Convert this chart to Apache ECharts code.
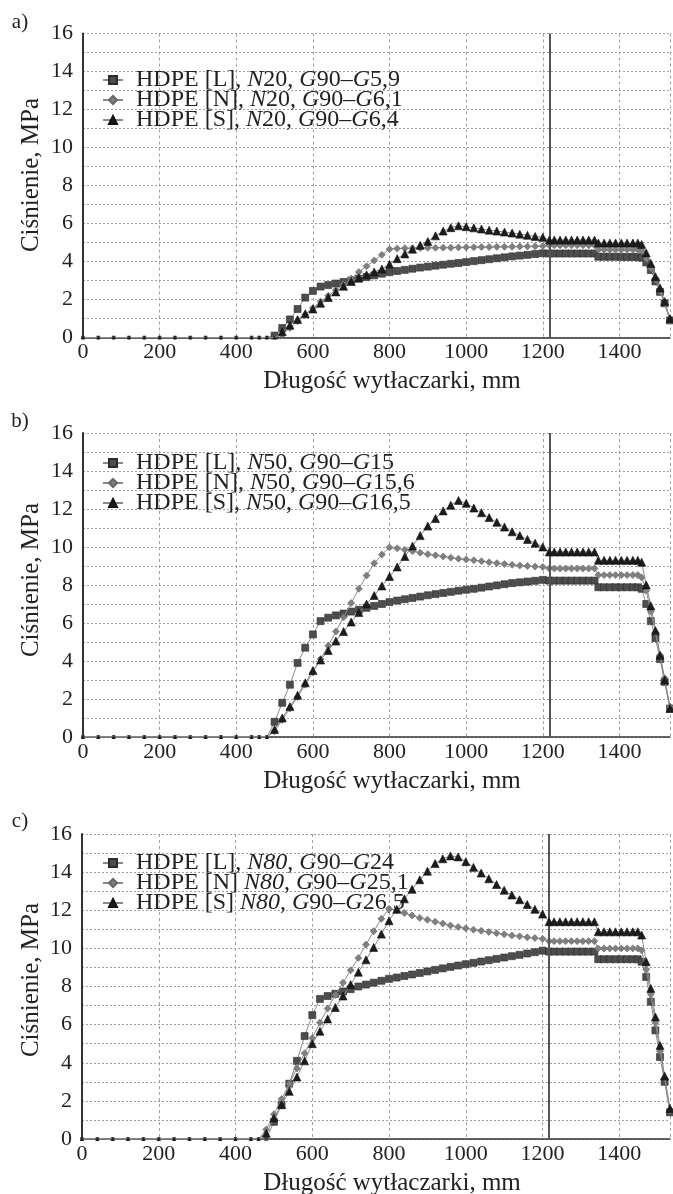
<!DOCTYPE html>
<html><head><meta charset="utf-8">
<script src="https://cdn.jsdelivr.net/npm/echarts@6/dist/echarts.min.js"></script>
<style>html,body{margin:0;padding:0;background:#fff}#c{width:673px;height:1194px}</style>
</head><body><div id="c"></div>
<script>
// ---- data ----
const X = [0,40,80,120,160,200,240,280,320,360,400,440,
460,480,500,520,540,560,580,600,620,640,660,680,700,720,740,760,780,800,820,840,860,880,900,920,940,960,980,1000,1020,1040,1060,1080,1100,1120,1140,1160,1180,1200,
1217,1230,1245,1260,1275,1290,1305,1320,1335,
1345,1360,1375,1390,1405,1420,1435,1448,1458,
1470,1482,1494,1506,1518,1532];

const La = [0,0,0,0,0,0,0,0,0,0,0,0,
0,0,0.1,0.5,0.95,1.5,2.1,2.45,2.68,2.76,
2.84,2.92,3.0,3.09,3.18,3.27,3.36,3.44,3.5,3.56,
3.62,3.68,3.73,3.78,3.83,3.88,3.92,3.97,4.02,4.07,
4.12,4.17,4.22,4.27,4.31,4.35,4.39,4.43,
4.42,4.42,4.42,4.42,4.42,4.42,4.42,4.42,4.42,
4.25,4.25,4.25,4.25,4.24,4.24,4.24,4.23,4.2,
3.95,3.55,2.95,2.4,1.8,0.9];
const Na = [0,0,0,0,0,0,0,0,0,0,0,0,
0,0,0,0.15,0.5,0.85,1.2,1.55,1.9,2.2,
2.5,2.8,3.1,3.45,3.75,4.05,4.35,4.65,4.68,4.7,
4.7,4.71,4.72,4.72,4.73,4.73,4.74,4.75,4.75,4.76,
4.76,4.77,4.77,4.78,4.79,4.79,4.8,4.81,
4.85,4.85,4.85,4.85,4.85,4.85,4.85,4.85,4.85,
4.62,4.62,4.62,4.62,4.62,4.62,4.62,4.62,4.55,
4.15,3.65,3.05,2.45,1.8,0.9];
const Sa = [0,0,0,0,0,0,0,0,0,0,0,0,
0,0,0,0.3,0.65,0.95,1.25,1.5,1.8,2.1,
2.4,2.7,2.95,3.15,3.3,3.45,3.6,3.85,4.15,4.4,
4.65,4.85,5.05,5.35,5.6,5.78,5.88,5.83,5.77,5.71,
5.65,5.6,5.55,5.5,5.44,5.38,5.32,5.27,
5.13,5.13,5.13,5.13,5.13,5.13,5.13,5.13,5.13,
4.97,4.97,4.97,4.97,4.97,4.97,4.97,4.97,4.9,
4.45,3.9,3.2,2.6,1.9,1.0];

const Lb = [0,0,0,0,0,0,0,0,0,0,0,0,
0,0,0.8,1.8,2.75,3.9,4.7,5.4,6.1,6.28,
6.4,6.5,6.6,6.7,6.8,6.9,7.0,7.1,7.18,7.25,
7.32,7.39,7.46,7.52,7.58,7.64,7.7,7.75,7.8,7.86,
7.92,7.98,8.04,8.1,8.14,8.18,8.22,8.27,
8.23,8.23,8.23,8.23,8.23,8.23,8.23,8.23,8.23,
7.88,7.88,7.88,7.88,7.88,7.88,7.88,7.88,7.8,
7.0,6.1,5.2,4.1,2.9,1.5];
const Nb = [0,0,0,0,0,0,0,0,0,0,0,0,
0,0,0.3,0.9,1.5,2.1,2.75,3.4,4.1,4.8,
5.55,6.3,7.05,7.8,8.5,9.15,9.6,9.98,9.93,9.85,
9.78,9.7,9.62,9.56,9.5,9.44,9.38,9.34,9.3,9.25,
9.2,9.15,9.1,9.06,9.03,9.0,8.97,8.95,
8.87,8.87,8.87,8.87,8.87,8.87,8.87,8.87,8.87,
8.52,8.52,8.52,8.52,8.52,8.52,8.52,8.52,8.4,
7.7,6.6,5.5,4.3,3.1,1.6];
const Sb = [0,0,0,0,0,0,0,0,0,0,0,0,
0,0,0.4,1.0,1.6,2.2,2.85,3.5,4.05,4.55,
5.05,5.55,6.05,6.55,7.0,7.45,7.95,8.45,8.95,9.5,
10.05,10.6,11.1,11.5,11.9,12.2,12.45,12.3,12.05,11.8,
11.55,11.3,11.05,10.8,10.6,10.4,10.2,10.0,
9.74,9.74,9.74,9.74,9.74,9.74,9.74,9.74,9.74,
9.3,9.3,9.3,9.3,9.3,9.3,9.3,9.3,9.2,
8.0,6.9,5.6,4.3,3.0,1.5];

const Lc = [0,0,0,0,0,0,0,0,0,0,0,0,
0,0,0.9,1.8,2.9,4.1,5.4,6.5,7.35,7.5,
7.62,7.74,7.86,8.0,8.1,8.2,8.3,8.4,8.47,8.55,
8.63,8.71,8.79,8.87,8.95,9.03,9.1,9.17,9.24,9.31,
9.38,9.45,9.52,9.59,9.66,9.73,9.8,9.88,
9.83,9.83,9.83,9.83,9.83,9.83,9.83,9.83,9.83,
9.43,9.43,9.43,9.43,9.43,9.43,9.43,9.43,9.3,
8.5,7.2,5.7,4.3,3.0,1.4];
const Nc = [0,0,0,0,0,0,0,0,0,0,0,0,
0,0.5,1.3,2.1,2.9,3.7,4.5,5.3,6.1,6.85,
7.55,8.2,8.85,9.5,10.2,10.9,11.55,12.08,12.0,11.85,
11.72,11.6,11.5,11.4,11.3,11.2,11.12,11.05,10.98,10.92,
10.86,10.8,10.74,10.68,10.63,10.58,10.54,10.5,
10.38,10.38,10.38,10.38,10.38,10.38,10.38,10.38,10.38,
10.0,10.0,10.0,10.0,10.0,10.0,10.0,10.0,9.9,
8.9,7.6,6.1,4.6,3.2,1.5];
const Sc = [0,0,0,0,0,0,0,0,0,0,0,0,
0,0.3,1.1,1.8,2.5,3.25,4.1,5.0,5.65,6.3,
6.9,7.5,8.1,8.75,9.4,10.05,10.75,11.45,12.05,12.6,
13.1,13.6,14.05,14.45,14.7,14.85,14.8,14.55,14.25,13.95,
13.65,13.35,13.05,12.8,12.55,12.3,12.05,11.8,
11.4,11.4,11.4,11.4,11.4,11.4,11.4,11.4,11.4,
10.87,10.87,10.87,10.87,10.87,10.87,10.87,10.87,10.7,
9.3,7.9,6.4,4.9,3.3,1.6];

const LEGEND_A = ['HDPE [L], *N*20, *G*90–*G*5,9', 'HDPE [N], *N*20, *G*90–*G*6,1', 'HDPE [S], *N*20, *G*90–*G*6,4'];
const LEGEND_B = ['HDPE [L], *N*50, *G*90–*G*15', 'HDPE [N], *N*50, *G*90–*G*15,6', 'HDPE [S], *N*50, *G*90–*G*16,5'];
const LEGEND_C = ['HDPE [L], *N80*, *G*90–*G*24', 'HDPE [N] *N80*, *G*90–*G*25,1', 'HDPE [S] *N80*, *G*90–*G*26,5'];
const PANEL_LABELS = ['a)', 'b)', 'c)'];
const X_TITLE = 'Długość wytłaczarki, mm';
const Y_TITLE = 'Ciśnienie, MPa';
const X_TICKS = [0,200,400,600,800,1000,1200,1400];
const Y_TICKS = [0,2,4,6,8,10,12,14,16];
const VLINE_X = 1217;
const X_MAX = 1532;

// ---- layout / style ----
const FONT = '"Liberation Serif","Times New Roman",serif';
const panels = [
  {key:'a', L:La, N:Na, S:Sa, legend:LEGEND_A, grid:{left:83, top:33.5, width:590, height:304}, legendTop:63, xTitleY:381, yTitleY:175, labelY:22},
  {key:'b', L:Lb, N:Nb, S:Sb, legend:LEGEND_B, grid:{left:83, top:433, width:590, height:304}, legendTop:446, xTitleY:781, yTitleY:580, labelY:421},
  {key:'c', L:Lc, N:Nc, S:Sc, legend:LEGEND_C, grid:{left:82, top:834, width:591, height:305}, legendTop:846, xTitleY:1183, yTitleY:980, labelY:821}
];
const SERIES_STYLE = [
  {sym:'rect', size:7, color:'#4d4d4d', border:'#2b2b2b'},
  {sym:'diamond', size:7, color:'#808080', border:'#666'},
  {sym:'triangle', size:8, color:'#1c1c1c', border:'#111'}
];
function toRich(s){
  return s.split('*').map((p,i)=> p ? '{' + (i%2 ? 'i' : 'n') + '|' + p + '}' : '').join('');
}

const grid=[], xAxis=[], yAxis=[], series=[], legend=[], graphic=[];
const legendMap = {};
panels.forEach((p, gi) => {
  grid.push(Object.assign({containLabel:false}, p.grid));
  xAxis.push({gridIndex:gi, type:'value', min:0, max:X_MAX, interval:200,
    axisLine:{onZero:false, lineStyle:{color:'#333', width:1.5}}, axisTick:{show:false},
    axisLabel:{formatter: v => X_TICKS.includes(v) ? String(v) : '', fontFamily:FONT, fontSize:22, color:'#222', margin:4},
    splitLine:{show:true, lineStyle:{color:'#a0a0a0', type:[3,3], width:1}}});
  yAxis.push({gridIndex:gi, type:'value', min:0, max:16, interval:1,
    axisLine:{show:true, lineStyle:{color:'#333', width:2}}, axisTick:{show:false},
    axisLabel:{formatter: v => Y_TICKS.includes(v) ? String(v) : '', fontFamily:FONT, fontSize:22, color:'#222', margin:10},
    splitLine:{show:true, lineStyle:{color:'#a0a0a0', type:[2,2], width:1}}});
  const names = [];
  [p.L, p.N, p.S].forEach((Y, si) => {
    const st = SERIES_STYLE[si];
    const name = p.key + si;
    names.push(name);
    legendMap[name] = toRich(p.legend[si]);
    const s = {name, type:'line', xAxisIndex:gi, yAxisIndex:gi,
      data: X.map((x,i)=>[x, Y[i]]),
      symbol: st.sym, symbolSize: v => v[1] === 0 ? 3 : st.size,
      showAllSymbol:true, clip:true, z: 3 + si,
      lineStyle:{color:'#8a8a8a', width:1},
      itemStyle:{color:st.color, borderColor:st.border, borderWidth:0.6}};
    if (si === 0) {
      s.markLine = {silent:true, symbol:['none','none'], label:{show:false},
        lineStyle:{color:'#555', width:2, type:'solid'}, data:[{xAxis:VLINE_X}], animation:false};
    }
    series.push(s);
  });
  legend.push({data:names, orient:'vertical', left:97, top:p.legendTop, itemGap:-4, itemWidth:20, itemHeight:10,
    selectedMode:false, formatter: n => legendMap[n],
    textStyle:{fontFamily:FONT, fontSize:24, color:'#222', lineHeight:20, padding:[0,0,0,8],
      rich:{n:{fontFamily:FONT, fontSize:24, color:'#222', lineHeight:20},
            i:{fontFamily:FONT, fontSize:24, color:'#222', fontStyle:'italic', lineHeight:20}}}});
  graphic.push({type:'text', x:392, y:p.xTitleY, style:{text:X_TITLE, font:'25px ' + FONT, fill:'#222', align:'center', verticalAlign:'middle', textAlign:'center', textVerticalAlign:'middle'}});
  graphic.push({type:'text', x:31, y:p.yTitleY, rotation:Math.PI/2, style:{text:Y_TITLE, font:'25px ' + FONT, fill:'#222', align:'center', verticalAlign:'middle', textAlign:'center', textVerticalAlign:'middle'}});
  graphic.push({type:'text', x:20, y:p.labelY, style:{text:PANEL_LABELS[gi], font:'21px ' + FONT, fill:'#222', align:'center', verticalAlign:'middle', textAlign:'center', textVerticalAlign:'middle'}});
});

const chart = echarts.init(document.getElementById('c'), null, {renderer:'canvas'});
chart.setOption({animation:false, backgroundColor:'#fff', grid, xAxis, yAxis, series, legend, graphic});
</script></body></html>
